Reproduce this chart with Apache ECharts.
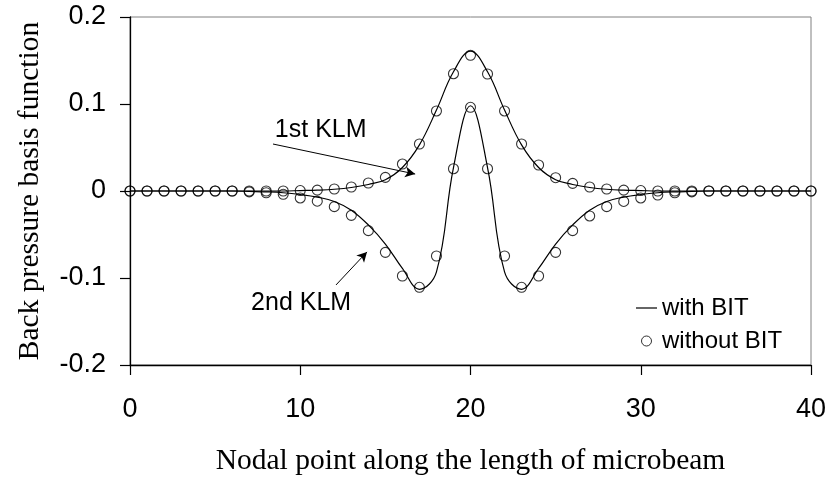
<!DOCTYPE html>
<html>
<head>
<meta charset="utf-8">
<script src="https://cdn.jsdelivr.net/npm/echarts@6/dist/echarts.min.js"></script>
<style>html,body{margin:0;padding:0;background:#fff;}#chart{width:832px;height:481px;}</style>
</head>
<body>
<div id="chart"></div>
<script>
// Nodal points 0..40
var nodes = [];
for (var i = 0; i <= 40; i++) nodes.push(i);

// 1st KLM, with BIT (line)
var withBIT1 = [0,0,0,0,0,0,0,0,0,0,
  0.0005,0.001,0.002,0.004,0.0075,0.013,0.027,0.053,0.093,0.137,0.1607,
  0.137,0.093,0.053,0.027,0.013,0.0075,0.004,0.002,0.001,0.0005,
  0,0,0,0,0,0,0,0,0,0];
// 2nd KLM, with BIT (line)
var withBIT2 = [0,0,0,0,0,0,0,
  -0.0005,-0.001,-0.002,-0.004,-0.007,-0.012,-0.022,-0.039,-0.061,-0.089,-0.113,-0.093,0.027,0.098,
  0.027,-0.093,-0.113,-0.089,-0.061,-0.039,-0.022,-0.012,-0.007,-0.004,-0.002,-0.001,-0.0005,
  0,0,0,0,0,0,0];
// 1st KLM, without BIT (circles)
var withoutBIT1 = [0,0,0,0,0,0,0,0,0,0,
  0.0005,0.001,0.0023,0.0046,0.0092,0.0157,0.031,0.054,0.092,0.1348,0.156,
  0.1345,0.092,0.054,0.0299,0.0153,0.0088,0.0046,0.0023,0.001,0.0005,
  0,0,0,0,0,0,0,0,0,0];
// 2nd KLM, without BIT (circles)
var withoutBIT2 = [0,0,0,0,0,0,0,
  -0.001,-0.002,-0.0038,-0.008,-0.0117,-0.018,-0.028,-0.0456,-0.0705,-0.0977,-0.1107,-0.0747,0.0256,0.0962,
  0.0256,-0.0747,-0.1107,-0.0977,-0.0705,-0.0456,-0.0287,-0.018,-0.012,-0.008,-0.0046,-0.002,-0.001,
  0,0,0,0,0,0,0];

var xTicks = [0, 10, 20, 30, 40];
var yTicks = [-0.2, -0.1, 0, 0.1, 0.2];

// annotation anchors (data coordinates)
var ann1Text = [11.2, 0.0695];
var ann1Arrow = [[8.4, 0.054], [16.75, 0.0195]];
var ann2Text = [10.05, -0.129];
var ann2Arrow = [[12.1, -0.108], [13.92, -0.070]];

function pairs(ys) { return nodes.map(function (x, i) { return [x, ys[i]]; }); }

var sans = 'Liberation Sans, Arial, sans-serif';
var serif = 'Liberation Serif, Times New Roman, serif';

var chart = echarts.init(document.getElementById('chart'), null, {renderer: 'canvas'});
var lineCommon = {
  type: 'line', name: 'with BIT', smooth: 0.4, symbol: 'none', showSymbol: false,
  lineStyle: {color: '#000', width: 1.2}, itemStyle: {color: '#000'}, z: 3, silent: true
};
var dotCommon = {
  type: 'scatter', name: 'without BIT', symbol: 'circle', symbolSize: 10,
  itemStyle: {color: 'rgba(255,255,255,0)', borderColor: '#000', borderWidth: 1.1}, z: 4, silent: true
};
chart.setOption({
  animation: false,
  backgroundColor: '#fff',
  grid: {left: 130, right: 21, top: 17, bottom: 116, show: true, borderColor: '#808080', borderWidth: 1},
  legend: {
    orient: 'vertical', left: 631, top: 291, itemWidth: 21, itemHeight: 10, itemGap: 9,
    symbolKeepAspect: true,
    textStyle: {fontFamily: sans, fontSize: 24, color: '#000'},
    data: [
      {name: 'with BIT', icon: 'path://M0,0 L21,0 L21,1.2 L0,1.2 Z', itemStyle: {color: '#000', borderWidth: 0}},
      {name: 'without BIT', icon: 'circle', itemStyle: {color: '#fff', borderColor: '#000', borderWidth: 1}}
    ]
  },
  xAxis: {
    type: 'value', min: xTicks[0], max: xTicks[xTicks.length - 1], interval: 10,
    name: 'Nodal point along the length of microbeam', nameLocation: 'middle', nameGap: 81,
    nameTextStyle: {fontFamily: serif, fontSize: 29.5, color: '#000'},
    axisLine: {onZero: false, lineStyle: {color: '#000', width: 1.3}},
    axisTick: {inside: false, length: 10, lineStyle: {color: '#000', width: 1.2}},
    axisLabel: {fontFamily: sans, fontSize: 27, color: '#000', margin: 31},
    splitLine: {show: false}
  },
  yAxis: {
    type: 'value', min: yTicks[0], max: yTicks[yTicks.length - 1], interval: 0.1,
    name: 'Back pressure basis function', nameLocation: 'middle', nameGap: 85,
    nameTextStyle: {fontFamily: serif, fontSize: 29.5, color: '#000'},
    axisLine: {lineStyle: {color: '#000', width: 1.3}},
    axisTick: {inside: false, length: 10, lineStyle: {color: '#000', width: 1.2}},
    axisLabel: {fontFamily: sans, fontSize: 27, color: '#000', margin: 24,
      formatter: function (v) { return String(Math.round(v * 10) / 10); }},
    splitLine: {show: false}
  },
  series: [
    Object.assign({}, lineCommon, {
      data: pairs(withBIT1),
      markLine: {
        silent: true, symbol: ['none', 'arrow'], symbolSize: [8, 10],
        lineStyle: {color: '#000', width: 1, type: 'solid'}, label: {show: false},
        data: [
          [{coord: ann1Arrow[0]}, {coord: ann1Arrow[1]}],
          [{coord: ann2Arrow[0]}, {coord: ann2Arrow[1]}]
        ]
      },
      markPoint: {
        silent: true, symbol: 'circle', symbolSize: 1,
        itemStyle: {color: 'rgba(0,0,0,0)'},
        label: {show: true, position: 'inside', fontFamily: sans, fontSize: 25, color: '#000', formatter: '{b}'},
        data: [
          {name: '1st KLM', coord: ann1Text},
          {name: '2nd KLM', coord: ann2Text}
        ]
      }
    }),
    Object.assign({}, lineCommon, {data: pairs(withBIT2)}),
    Object.assign({}, dotCommon, {data: pairs(withoutBIT1)}),
    Object.assign({}, dotCommon, {data: pairs(withoutBIT2)})
  ]
});
</script>
</body>
</html>
